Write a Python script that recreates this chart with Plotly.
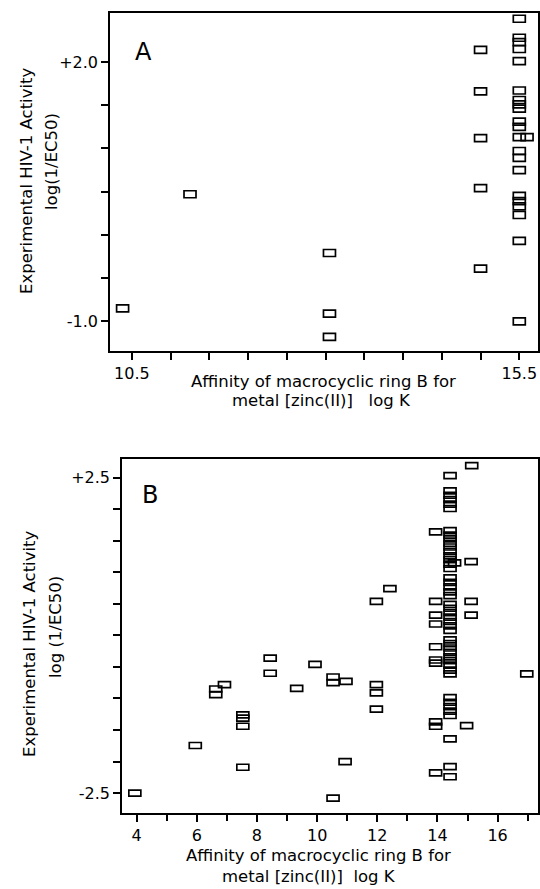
import plotly.graph_objects as go

# ---------------- Panel A data ----------------
a_x = [10.38, 11.25, 13.05, 13.05, 13.05,
       15.0, 15.0, 15.0, 15.0, 15.0,
       15.5, 15.5, 15.5, 15.5, 15.5, 15.5, 15.5, 15.5, 15.5, 15.5, 15.5,
       15.5, 15.5, 15.5, 15.5, 15.5, 15.5, 15.5, 15.5, 15.5, 15.5,
       15.6]
a_y = [-0.85, 0.47, -0.21, -0.91, -1.18,
       2.14, 1.66, 1.12, 0.54, -0.39,
       2.50, 2.28, 2.23, 2.15, 2.01, 1.67, 1.56, 1.51, 1.46, 1.31, 1.25,
       1.13, 0.97, 0.89, 0.75, 0.45, 0.39, 0.33, 0.23, -0.07, -1.0,
       1.13]
a_xticks = [10.5, 11.0, 11.5, 12.0, 12.5, 13.0, 13.5, 14.0, 14.5, 15.0, 15.5]
a_xticktext = ["10.5", "", "", "", "", "", "", "", "", "", "15.5"]
a_yticks = [-1.0, -0.5, 0.0, 0.5, 1.0, 1.5, 2.0]
a_yticktext = ["-1.0", "", "", "", "", "", "+2.0"]

# ---------------- Panel B data ----------------
b_x = [3.94, 5.95, 6.63, 6.63, 6.92, 7.53, 7.53, 7.53, 7.53,
       8.44, 8.44, 9.32, 9.93, 10.53, 10.53, 10.96, 10.53, 10.93,
       11.97, 12.42, 11.97, 11.97, 11.97,
       13.94, 13.94, 13.94, 13.94, 13.94, 13.94, 13.94, 13.94, 13.94, 13.94,
       15.14, 15.12, 15.12, 15.12, 14.97, 16.97, 14.57]
b_y = [-2.5, -1.745, -0.85, -0.94, -0.78, -1.26, -1.31, -1.44, -2.09,
       -0.36, -0.60, -0.84, -0.46, -0.66, -0.75, -0.73, -2.58, -2.0,
       0.54, 0.74, -0.78, -0.91, -1.17,
       1.64, 0.54, 0.32, 0.18, -0.18, -0.39, -0.44, -1.37, -1.44, -2.18,
       2.69, 1.17, 0.54, 0.32, -1.43, -0.61, 1.15]
# dense column at log K ~ 14.4
b_col_x = 14.42
b_col_y = [2.53,
           2.29, 2.22, 2.15, 2.08, 2.01,
           1.66, 1.59, 1.53, 1.46, 1.40, 1.33, 1.26, 1.20, 1.13, 1.06,
           0.91, 0.84, 0.77, 0.69, 0.63,
           0.49, 0.43, 0.36, 0.29, 0.22, 0.15, 0.08,
           -0.07, -0.13, -0.20, -0.27, -0.34, -0.40, -0.47, -0.55, -0.61,
           -0.985, -1.06, -1.13, -1.20, -1.27,
           -1.64, -2.08, -2.24]
b_xticks = [4, 6, 8, 10, 12, 14, 16]
b_xminor = [5, 7, 9, 11, 13, 15, 17]
b_yticks = [-2.5, -2.0, -1.5, -1.0, -0.5, 0.0, 0.5, 1.0, 1.5, 2.0, 2.5]
b_yticktext = ["-2.5", "", "", "", "", "", "", "", "", "", "+2.5"]

x_title_1 = "Affinity of macrocyclic ring B for"
a_x_title_2 = "metal [zinc(II)]   log K"
b_x_title_2 = "metal [zinc(II)]  log K"
y_title_1 = "Experimental HIV-1 Activity"
a_y_title_2 = "log(1/EC50)"
b_y_title_2 = "log (1/EC50)"

W, H = 540, 889
FONT = "DejaVu Sans"

def px(x):
    return x / W

def py(y):
    return 1 - y / H

fig = go.Figure()

all_b_x = b_x + [b_col_x] * len(b_col_y)
all_b_y = b_y + b_col_y

fig.add_trace(go.Scatter(x=a_x, y=a_y, mode="markers", xaxis="x", yaxis="y",
                         marker=dict(size=10, opacity=0), showlegend=False))
fig.add_trace(go.Scatter(x=all_b_x, y=all_b_y, mode="markers", xaxis="x2", yaxis="y2",
                         marker=dict(size=10, opacity=0), showlegend=False))

shapes = []
for xv, yv in zip(a_x, a_y):
    shapes.append(dict(type="rect", xref="x", yref="y", xsizemode="pixel", ysizemode="pixel",
                       xanchor=xv, yanchor=yv, x0=-6, x1=6, y0=-3.5, y1=3.5,
                       line=dict(color="black", width=1.7)))
for xv, yv in zip(all_b_x, all_b_y):
    shapes.append(dict(type="rect", xref="x2", yref="y2", xsizemode="pixel", ysizemode="pixel",
                       xanchor=xv, yanchor=yv, x0=-6, x1=6, y0=-3, y1=3,
                       line=dict(color="black", width=1.7)))

axis_common = dict(showline=True, mirror=True, linecolor="black", linewidth=2,
                   ticks="outside", ticklen=7, tickwidth=1.5, tickcolor="black",
                   showgrid=False, zeroline=False,
                   tickfont=dict(family=FONT, size=16, color="black"))

fig.update_layout(
    width=W, height=H,
    margin=dict(l=0, r=0, t=0, b=0),
    paper_bgcolor="white", plot_bgcolor="white",
    showlegend=False,
    shapes=shapes,
    xaxis=dict(domain=[px(110.2), px(537.9)], range=[10.22, 15.74], anchor="y",
               tickmode="array", tickvals=a_xticks, ticktext=a_xticktext, **axis_common),
    yaxis=dict(domain=[py(350.7), py(12.7)], range=[-1.34, 2.57], anchor="x",
               tickmode="array", tickvals=a_yticks, ticktext=a_yticktext, **axis_common),
    xaxis2=dict(domain=[px(122.2), px(537.9)], range=[3.52, 17.34], anchor="y2",
                tickmode="array", tickvals=b_xticks,
                minor=dict(tickmode="array", tickvals=b_xminor, ticks="outside", ticklen=6,
                           tickwidth=1.5, tickcolor="black"),
                **axis_common),
    yaxis2=dict(domain=[py(812.7), py(459.3)], range=[-2.81, 2.79], anchor="x2",
                tickmode="array", tickvals=b_yticks, ticktext=b_yticktext, **axis_common),
)

def ann(text, x, y, size=16.5, angle=0):
    fig.add_annotation(text=text, x=px(x), y=py(y), xref="paper", yref="paper",
                       showarrow=False, textangle=angle, xanchor="center", yanchor="middle",
                       font=dict(family=FONT, size=size, color="black"))

# panel letters
ann("A", 143, 52, size=24)
ann("B", 150, 495, size=24)
# panel A titles
ann(x_title_1, 323, 381)
ann(a_x_title_2, 321, 400)
ann(y_title_1, 26, 181, angle=-90)
ann(a_y_title_2, 52, 162, angle=-90)
# panel B titles
ann(x_title_1, 318, 855)
ann(b_x_title_2, 309, 876)
ann(y_title_1, 29, 644, angle=-90)
ann(b_y_title_2, 55, 627, angle=-90)

fig.write_html(
    "out.html",
    config={"displayModeBar": False},
    post_script="document.body.style.margin='0';document.body.style.overflow='hidden';",
)
